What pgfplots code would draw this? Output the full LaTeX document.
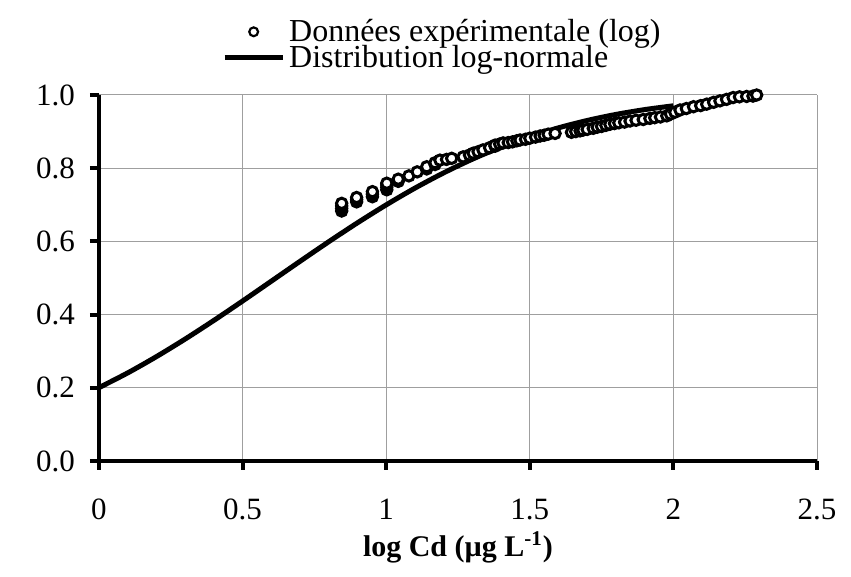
\documentclass[border=0pt]{standalone}
\usepackage{pgfplots}
\pgfplotsset{compat=1.18}
\usepackage{fontspec}
\setmainfont{Liberation Serif}

\begin{document}
\begin{tikzpicture}
\begin{axis}[
    name=ax,
    scale only axis,
    width=359pt, height=183pt,
    xmin=0, xmax=2.5,
    ymin=0, ymax=1,
    xtick={0,0.5,1,1.5,2,2.5},
    ytick={0,0.2,0.4,0.6,0.8,1.0},
    /pgf/number format/assume math mode=true,
    ticklabel style={font=\fontsize{15.5}{18}\selectfont},
    yticklabel style={xshift=-4pt, /pgf/number format/fixed,
        /pgf/number format/fixed zerofill, /pgf/number format/precision=1},
    xticklabel style={yshift=-11pt},
    axis x line*=bottom,
    axis y line*=left,
    axis line style={-, line width=2pt},
    tick align=outside,
    major tick length=4.5pt,
    tick style={black, line width=2pt},
    grid=major,
    grid style={gray!75, line width=0.5pt},
    xlabel={\textbf{log Cd (µg L\textsuperscript{-1})}},
    xlabel style={font=\fontsize{15}{18}\selectfont, yshift=1pt},
    legend style={draw=none, fill=none, at={(0.171,1.065)}, anchor=south west,
        font=\fontsize{16}{18}\selectfont, row sep=0pt, inner sep=0pt,
        nodes={text height=11.3pt, text depth=1.7pt, inner ysep=0pt}},
    legend cell align=left,
]
\addplot[only marks, mark=*, mark size=2.6pt,
    mark options={fill=white, draw=black, line width=1.5pt},
    legend image code/.code={\draw[mark size=2.2pt, mark options={fill=white, draw=black, line width=1.1pt}] plot coordinates {(14.5pt,0pt)};}]
coordinates {
(0.845,0.683)(0.845,0.690)(0.845,0.697)(0.845,0.704)
(0.897,0.708)(0.897,0.714)(0.897,0.720)
(0.952,0.722)(0.952,0.729)(0.952,0.736)
(1.002,0.741)(1.002,0.748)(1.002,0.754)(1.002,0.759)
(1.042,0.764)(1.042,0.770)
(1.079,0.779)(1.108,0.790)
(1.141,0.798)(1.141,0.804)
(1.170,0.810)(1.170,0.815)
(1.187,0.822)(1.210,0.824)(1.228,0.827)(1.268,0.831)
(1.290,0.836)(1.303,0.841)(1.320,0.845)(1.337,0.850)
(1.360,0.856)(1.379,0.860)(1.379,0.863)(1.395,0.866)
(1.407,0.869)(1.425,0.870)(1.440,0.872)(1.455,0.875)
(1.466,0.877)(1.485,0.879)(1.500,0.882)(1.520,0.885)
(1.536,0.888)(1.550,0.890)(1.564,0.893)(1.588,0.895)
(1.645,0.898)(1.660,0.900)(1.675,0.902)(1.685,0.904)
(1.700,0.906)(1.721,0.909)(1.735,0.912)(1.750,0.914)
(1.765,0.917)(1.779,0.920)(1.795,0.922)(1.810,0.924)
(1.830,0.926)(1.849,0.929)(1.870,0.931)(1.895,0.933)
(1.918,0.936)(1.935,0.938)(1.955,0.940)(1.977,0.943)
(1.990,0.948)(2.005,0.953)(2.023,0.959)(2.045,0.963)
(2.070,0.968)(2.095,0.971)(2.116,0.975)(2.140,0.980)
(2.162,0.984)(2.185,0.988)(2.208,0.993)(2.230,0.995)
(2.255,0.996)(2.277,0.997)(2.290,1.000)
};
\addlegendentry{Données expérimentale (log)}
\addplot[black, line width=2.5pt, smooth,
    legend image code/.code={\draw[line width=2.5pt] (0pt,0pt) -- (29pt,0pt);}]
coordinates {
(0.0,0.2005)(0.1,0.2407)(0.2,0.2852)(0.3,0.3332)(0.4,0.3841)
(0.5,0.4371)(0.6,0.4913)(0.7,0.5456)(0.8,0.5991)(0.9,0.6508)
(1.0,0.6998)(1.1,0.7455)(1.2,0.7872)(1.3,0.8246)(1.4,0.8576)
(1.5,0.8861)(1.6,0.9103)(1.7,0.9304)(1.8,0.9469)(1.9,0.9601)
(2.0,0.9705)
};
\addlegendentry{Distribution log-normale}
\end{axis}
\path ([xshift=-49.5pt,yshift=-58pt]ax.south west) rectangle ([xshift=17pt,yshift=47.5pt]ax.north east);
\end{tikzpicture}
\end{document}
